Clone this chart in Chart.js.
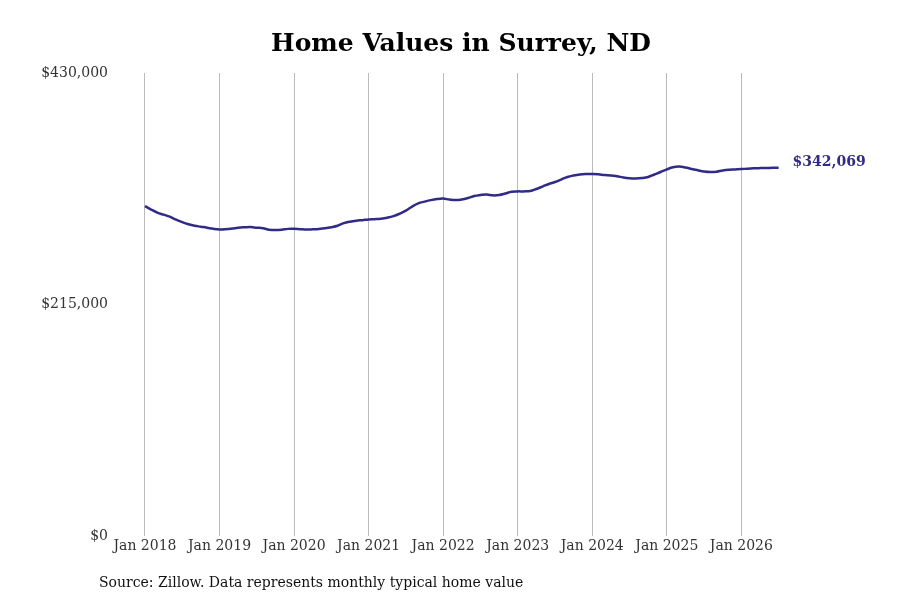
<!DOCTYPE html>
<html>
<head>
<meta charset="utf-8">
<script src="https://cdn.jsdelivr.net/npm/chart.js@4.4.1/dist/chart.umd.min.js"></script>
<style>
  body { margin: 0; background: #fff; }
  #wrap { position: relative; width: 900px; height: 600px; }
  #source {
    position: absolute; left: 99px; top: 574px;
    font-family: "DejaVu Serif", serif; font-size: 14px; color: #111;
  }
</style>
</head>
<body>
<div id="wrap">
  <canvas id="homeChart" width="900" height="600"></canvas>
  <div id="source">Source: Zillow. Data represents monthly typical home value</div>
</div>
<script>
// Valeurs mensuelles, janvier 2018 -> juillet 2026
const homeValues = [
    306400, 303200, 300400, 298500, 296600, 293800, 291500, 289600, 288200, 287300, 286400, 285400,
    284800, 285000, 285600, 286400, 286800, 287000, 286400, 285900, 284500, 284200, 284500, 285300,
    285400, 285000, 284700, 284900, 285200, 285800, 286800, 288200, 290600, 292000, 292900, 293400,
    294000, 294300, 294800, 295700, 297100, 299400, 302200, 306000, 309000, 310600, 312000, 313000,
    313400, 312500, 312000, 312500, 313900, 315800, 316700, 317200, 316400, 316700, 318100, 319800,
    320100, 320100, 320400, 322300, 324600, 327000, 328800, 331100, 333500, 334900, 335800, 336200,
    336300, 336000, 335300, 334900, 334100, 333000, 332300, 332100, 332500, 333500, 335800, 338100,
    340500, 342500, 343100, 342300, 340900, 339700, 338600, 338100, 338400, 339500, 340200, 340500,
    340800, 341200, 341500, 341700, 341850, 341950, 342069
];
const xTickMonths = [0, 12, 24, 36, 48, 60, 72, 84, 96];
const xTickLabels = ["Jan 2018", "Jan 2019", "Jan 2020", "Jan 2021", "Jan 2022", "Jan 2023", "Jan 2024", "Jan 2025", "Jan 2026"];
const yTicks = [0, 215000, 430000];

const lineColor = '#2f2b86';
const serif = '"DejaVu Serif", serif';

// points {x: mois, y: valeur}
const points = homeValues.map((v, i) => ({ x: i, y: v }));

// Étiquette de la dernière valeur
const lastLabel = {
    id: 'lastLabel',
    afterDatasetsDraw(chart) {
        const meta = chart.getDatasetMeta(0);
        const last = meta.data[meta.data.length - 1];
        const v = homeValues[homeValues.length - 1];
        const ctx = chart.ctx;
        ctx.save();
        ctx.font = 'bold 14px ' + serif;
        ctx.fillStyle = lineColor;
        ctx.textBaseline = 'middle';
        ctx.fillText('$' + v.toLocaleString('en-US'), last.x + 14, last.y - 5);
        ctx.restore();
    }
};

const ctx = document.getElementById('homeChart').getContext('2d');
new Chart(ctx, {
    type: 'line',
    data: {
        datasets: [{
            data: points,
            borderColor: lineColor,
            borderWidth: 2.5,
            pointRadius: 0,
            tension: 0.4,
            fill: false
        }]
    },
    options: {
        responsive: false,
        animation: false,
        layout: { padding: { left: 30, right: 8, top: 20, bottom: 43 } },
        plugins: {
            legend: { display: false },
            tooltip: { enabled: false },
            title: {
                display: true,
                text: 'Home Values in Surrey, ND',
                color: '#000',
                font: { family: serif, size: 25, weight: 'bold' },
                padding: { top: 9, bottom: 14 }
            }
        },
        scales: {
            x: {
                type: 'linear',
                min: -4.5,
                max: 120.25,
                afterBuildTicks(scale) {
                    scale.ticks = xTickMonths.map(m => ({ value: m }));
                },
                ticks: {
                    autoSkip: false,
                    maxRotation: 0,
                    color: '#333',
                    font: { family: serif, size: 14 },
                    padding: 2,
                    callback: (val) => xTickLabels[xTickMonths.indexOf(val)]
                },
                grid: { color: '#bbbbbb', lineWidth: 1, drawTicks: false },
                border: { display: false }
            },
            y: {
                min: 0,
                max: 430000,
                afterBuildTicks(scale) {
                    scale.ticks = yTicks.map(v => ({ value: v }));
                },
                afterFit(scale) { scale.width = 87; },
                ticks: {
                    color: '#333',
                    font: { family: serif, size: 14 },
                    padding: 9,
                    callback: (val) => '$' + val.toLocaleString('en-US')
                },
                grid: { display: false, drawTicks: false },
                border: { display: false }
            }
        }
    },
    plugins: [lastLabel]
});
</script>
</body>
</html>
